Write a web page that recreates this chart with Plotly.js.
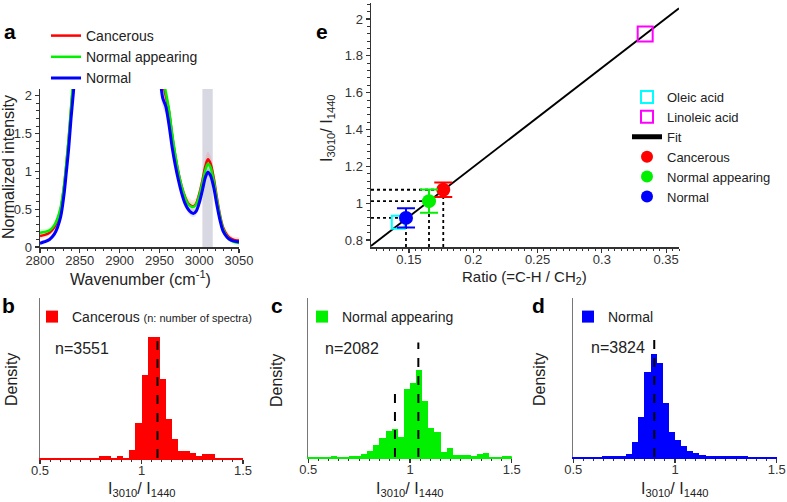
<!DOCTYPE html>
<html>
<head>
<meta charset="utf-8">
<script src="https://cdn.plot.ly/plotly-3.0.1.min.js"></script>
<style>body{margin:0;background:#fff}</style>
</head>
<body>
<div id="chart" style="width:787px;height:502px"></div>
<script>
// panel a: mean normalized spectra, 2800-3050 cm-1 (the CH2 peaks run off the top)
const wavenumber = [2800, 2806, 2812, 2818, 2822, 2826, 2830, 2833, 2836, 2839, 2842, 2846, 2860, 2900, 2940,
  2950, 2954, 2958, 2962, 2966, 2970, 2974, 2978, 2982, 2986, 2990, 2993, 2996, 3000, 3004,
  3008, 3011, 3014, 3018, 3022, 3026, 3030, 3035, 3040, 3045, 3050];
const specCancer = [0.145, 0.16, 0.19, 0.26, 0.35, 0.50, 0.78, 1.08, 1.42, 1.82, 2.2, 2.7, 4, 4, 4,
  2.6, 2.2, 2.0, 1.8, 1.48, 1.2, 0.98, 0.8, 0.67, 0.58, 0.545, 0.54, 0.57, 0.70, 0.88,
  1.08, 1.16, 1.11, 0.93, 0.67, 0.43, 0.26, 0.16, 0.11, 0.09, 0.085];
const specAppear = [0.19, 0.20, 0.22, 0.29, 0.38, 0.53, 0.80, 1.10, 1.44, 1.85, 2.25, 2.7, 4, 4, 4,
  2.6, 2.25, 2.05, 1.82, 1.5, 1.22, 0.98, 0.8, 0.66, 0.57, 0.535, 0.53, 0.56, 0.68, 0.85,
  1.03, 1.10, 1.06, 0.89, 0.64, 0.41, 0.24, 0.14, 0.09, 0.065, 0.055];
const specNormal = [0.05, 0.07, 0.10, 0.17, 0.26, 0.40, 0.68, 0.98, 1.30, 1.70, 2.05, 2.6, 4, 4, 4,
  2.4, 1.98, 1.86, 1.62, 1.32, 1.08, 0.88, 0.71, 0.58, 0.50, 0.455, 0.445, 0.47, 0.58, 0.75,
  0.93, 0.99, 0.95, 0.80, 0.57, 0.36, 0.21, 0.13, 0.09, 0.075, 0.065];
const sdCancer = [0.04, 0.04, 0.04, 0.05, 0.06, 0.07, 0.09, 0.11, 0.13, 0.15, 0.17, 0.2, 0.2, 0.2, 0.2,
  0.2, 0.17, 0.15, 0.13, 0.11, 0.1, 0.09, 0.08, 0.08, 0.08, 0.08, 0.08, 0.08, 0.08, 0.09,
  0.1, 0.1, 0.1, 0.09, 0.08, 0.07, 0.06, 0.05, 0.04, 0.04, 0.04];
const sdAppear = [0.04, 0.04, 0.04, 0.04, 0.05, 0.06, 0.08, 0.09, 0.11, 0.13, 0.15, 0.18, 0.18, 0.18, 0.18,
  0.18, 0.15, 0.13, 0.11, 0.1, 0.09, 0.08, 0.07, 0.06, 0.06, 0.06, 0.06, 0.06, 0.06, 0.07,
  0.08, 0.08, 0.08, 0.07, 0.06, 0.06, 0.05, 0.04, 0.04, 0.04, 0.04];
const sdNormal = [0.03, 0.03, 0.03, 0.04, 0.05, 0.06, 0.07, 0.08, 0.1, 0.12, 0.14, 0.15, 0.15, 0.15, 0.15,
  0.15, 0.13, 0.11, 0.1, 0.09, 0.08, 0.07, 0.06, 0.05, 0.05, 0.05, 0.05, 0.05, 0.05, 0.05,
  0.05, 0.05, 0.05, 0.05, 0.05, 0.04, 0.04, 0.03, 0.03, 0.03, 0.03];
const bandWn = [3004, 3017];

// panel e: I3010/I1440 vs C-H/CH2 ratio
const acidNames = ['Oleic acid', 'Linoleic acid'];
const acidRatio = [0.1417, 0.3337];
const acidI = [0.8965, 1.918];
const groupNames = ['Cancerous', 'Normal appearing', 'Normal'];
const groupRatio = [0.1767, 0.1656, 0.1477];
const groupI = [1.073, 1.011, 0.920];
const groupErr = [0.039, 0.063, 0.052];
const fitSlope = 5.39;
const fitIntercept = 0.118;
const eXRange = [0.1205, 0.36];
const eYRange = [0.762, 2.087];

// panels b-d: histograms of I3010/I1440 (bin width 0.03)
const binsB = [0.805, 0.835, 0.895, 0.955, 0.985, 1.015, 1.045, 1.075, 1.105, 1.135, 1.165, 1.195, 1.225, 1.255, 1.285, 1.315, 1.345];
const densB = [0.1, 0.1, 0.1, 0.52, 2.19, 5.17, 7.52, 7.52, 4.9, 2.4, 1.21, 0.42, 0.42, 0.31, 0.1, 0.23, 0.23];
const binsC = [0.625, 0.715, 0.745, 0.775, 0.805, 0.835, 0.865, 0.895, 0.925, 0.955, 0.985, 1.015, 1.045, 1.075, 1.105, 1.135,
  1.165, 1.195, 1.225, 1.255, 1.285, 1.315, 1.345, 1.375, 1.465, 1.495];
const densC = [0.07, 0.05, 0.09, 0.18, 0.44, 0.83, 1.29, 1.8, 1.91, 1.41, 4.68, 5.14, 6.01, 3.87, 2.03, 1.71,
  0.37, 0.6, 0.12, 0.12, 0.12, 0.07, 0.18, 0.25, 0.09, 0.09];
const binsD = [0.655, 0.685, 0.715, 0.745, 0.775, 0.805, 0.835, 0.865, 0.895, 0.925, 0.955, 0.985, 1.015, 1.045, 1.075, 1.105,
  1.135, 1.165, 1.195, 1.225, 1.255, 1.285, 1.315, 1.345];
const densD = [0.07, 0.07, 0.07, 0.07, 0.24, 1.04, 2.8, 5.98, 7.29, 6.64, 3.81, 1.74, 1.18, 0.75, 0.4, 0.28,
  0.16, 0.09, 0.09, 0.09, 0.09, 0.09, 0.09, 0.09];
const meanB = [1.079], meanBTop = 7.8;
const meansC = [0.926, 1.041], meansCTop = [4.63, 7.9];
const meanD = [0.898], meanDTop = 8.87;
const countB = 3551, countC = 2082, countD = 3824;

const RED = '#ff0000', GREEN = '#00f000', BLUE = '#0000ff';
const FONT = 'Liberation Sans, Arial, sans-serif';
const W = 787, H = 502;
const fx = px => px / W;
const fy = py => 1 - py / H;

function band (mean, sd, fill) {
  const up = mean.map((v, i) => v + sd[i]);
  const lo = mean.map((v, i) => v - sd[i]).reverse();
  return {
    type: 'scatter', x: wavenumber.concat(wavenumber.slice().reverse()), y: up.concat(lo),
    fill: 'toself', fillcolor: fill, line: { width: 0, shape: 'spline' }, mode: 'lines',
    hoverinfo: 'skip', showlegend: false, xaxis: 'x', yaxis: 'y'
  };
}

function spec (y, name, color, width) {
  return {
    type: 'scatter', mode: 'lines', x: wavenumber, y, name,
    line: { color, width, shape: 'spline' }, xaxis: 'x', yaxis: 'y', legend: 'legend'
  };
}

function dashed (xs, tops, xa, ya) {
  return xs.map((m, i) => ({
    type: 'scatter', mode: 'lines', x: [m, m], y: [0, tops[i]], xaxis: xa, yaxis: ya,
    line: { color: '#000', width: 2, dash: 'dash' }, showlegend: false, hoverinfo: 'skip'
  }));
}

function hist (bins, dens, name, color, xa, ya, leg) {
  return {
    type: 'bar', x: bins, y: dens, width: 0.03, name, marker: { color, line: { width: 0 } },
    xaxis: xa, yaxis: ya, legend: leg
  };
}

const traces = [
  band(specCancer, sdCancer, 'rgba(255,0,0,0.10)'),
  band(specAppear, sdAppear, 'rgba(0,240,0,0.12)'),
  band(specNormal, sdNormal, 'rgba(0,0,255,0.10)'),
  spec(specCancer, 'Cancerous', RED, 2.5),
  spec(specAppear, 'Normal appearing', GREEN, 2.5),
  spec(specNormal, 'Normal', BLUE, 3)
];

// dotted guides in panel e
const groupColors = [RED, GREEN, BLUE];
groupRatio.forEach((r, i) => {
  traces.push({
    type: 'scatter', mode: 'lines', x: [eXRange[0], r], y: [groupI[i], groupI[i]], xaxis: 'x2', yaxis: 'y2',
    line: { color: '#000', width: 1.8, dash: 'dot' }, showlegend: false, hoverinfo: 'skip'
  });
  traces.push({
    type: 'scatter', mode: 'lines', x: [r, r], y: [eYRange[0], groupI[i]], xaxis: 'x2', yaxis: 'y2',
    line: { color: '#000', width: 1.8, dash: 'dot' }, showlegend: false, hoverinfo: 'skip'
  });
});

traces.push({
  type: 'scatter', mode: 'lines', name: 'Fit', x: eXRange, y: eXRange.map(v => fitIntercept + fitSlope * v),
  line: { color: '#000', width: 1.8 }, xaxis: 'x2', yaxis: 'y2', legend: 'legend2', legendrank: 3
});
const acidColors = ['#00ffff', '#ff00ff'];
const acidSizes = [13, 15];
acidNames.forEach((n, i) => {
  traces.push({
    type: 'scatter', mode: 'markers', name: n, x: [acidRatio[i]], y: [acidI[i]],
    marker: { symbol: 'square-open', size: acidSizes[i], color: acidColors[i], line: { width: 2, color: acidColors[i] } },
    xaxis: 'x2', yaxis: 'y2', legend: 'legend2', legendrank: i + 1
  });
});
groupNames.forEach((n, i) => {
  traces.push({
    type: 'scatter', mode: 'markers', name: n, x: [groupRatio[i]], y: [groupI[i]],
    marker: { size: 14, color: groupColors[i] },
    error_y: { type: 'data', array: [groupErr[i]], color: groupColors[i], thickness: 2, width: 9 },
    xaxis: 'x2', yaxis: 'y2', legend: 'legend2', legendrank: 4 + i
  });
});

traces.push(hist(binsB, densB, 'Cancerous <span style="font-size:11px">(n: number of spectra)</span>', RED, 'x3', 'y3', 'legend3'));
traces.push(...dashed(meanB, [meanBTop], 'x3', 'y3'));
traces.push(hist(binsC, densC, 'Normal appearing', GREEN, 'x4', 'y4', 'legend4'));
traces.push(...dashed(meansC, meansCTop, 'x4', 'y4'));
traces.push(hist(binsD, densD, 'Normal', BLUE, 'x5', 'y5', 'legend5'));
traces.push(...dashed(meanD, [meanDTop], 'x5', 'y5'));

const axisBase = {
  showgrid: false, zeroline: false, showline: true, linecolor: '#333', linewidth: 1.5,
  ticks: 'outside', ticklen: 4, tickwidth: 1.2, tickcolor: '#333',
  tickfont: { size: 13, color: '#333', family: FONT }
};
const xTight = { ticklabelstandoff: -4 };
function minor (dtick) {
  return { dtick, ticks: 'outside', ticklen: 2.5, tickwidth: 1, tickcolor: '#333' };
}
function histX (domain, color, anchor) {
  return Object.assign({}, axisBase, xTight, {
    domain, anchor, range: [0.5, 1.5], dtick: 0.5, tick0: 0, linecolor: color, minor: minor(0.05)
  });
}
function histY (domain, top, anchor) {
  return {
    domain, anchor, range: [0, top], showgrid: false, zeroline: false, showline: true,
    linecolor: '#777', linewidth: 1.5, ticks: '', showticklabels: false
  };
}

const histDomY = [fy(457), fy(298)];
const sub = 'I<sub>3010</sub>/ I<sub>1440</sub>';
const ann = (x, y, text, size, extra) => Object.assign({
  xref: 'paper', yref: 'paper', x: fx(x), y: fy(y), text, showarrow: false,
  xanchor: 'center', yanchor: 'middle',
  font: { size, color: '#222', family: FONT }
}, extra || {});
const bold = { font: { size: 21, color: '#000', family: FONT, weight: 'bold' } };

const legendBase = {
  xanchor: 'left', yanchor: 'top', bgcolor: 'rgba(0,0,0,0)', borderwidth: 0,
  tracegroupgap: 0, font: { size: 14, color: '#222', family: FONT }
};

const layout = {
  width: W, height: H, margin: { l: 0, r: 0, t: 0, b: 0 },
  paper_bgcolor: '#fff', plot_bgcolor: 'rgba(0,0,0,0)',
  font: { family: FONT, color: '#222' },
  barmode: 'overlay', bargap: 0,
  xaxis: Object.assign({}, axisBase, { ticklabelstandoff: -3, domain: [fx(40), fx(239)], anchor: 'y', range: [2800, 3050], dtick: 50, minor: minor(10) }),
  yaxis: Object.assign({}, axisBase, { domain: [fy(247), fy(89)], anchor: 'x', range: [0, 2.09], dtick: 0.5, minor: minor(0.1) }),
  xaxis2: Object.assign({}, axisBase, xTight, { domain: [fx(371), fx(679)], anchor: 'y2', range: eXRange, dtick: 0.05, tick0: 0, minor: minor(0.005) }),
  yaxis2: Object.assign({}, axisBase, { domain: [fy(247), fy(3)], anchor: 'x2', range: eYRange, dtick: 0.2, tick0: 0, minor: minor(0.04) }),
  xaxis3: histX([fx(40), fx(243)], RED, 'y3'),
  yaxis3: histY([fy(458), fy(298)], 9.94, 'x3'),
  xaxis4: histX([fx(308.3), fx(511.7)], GREEN, 'y4'),
  yaxis4: histY(histDomY, 10.98, 'x4'),
  xaxis5: histX([fx(573.3), fx(776.7)], BLUE, 'y5'),
  yaxis5: histY(histDomY, 11.25, 'x5'),
  legend: Object.assign({}, legendBase, { x: fx(46), y: fy(20) }),
  legend2: Object.assign({}, legendBase, { x: fx(627), y: fy(82), itemsizing: 'constant', font: { size: 13, color: '#222', family: FONT } }),
  legend3: Object.assign({}, legendBase, { x: fx(32), y: fy(301) }),
  legend4: Object.assign({}, legendBase, { x: fx(302), y: fy(301) }),
  legend5: Object.assign({}, legendBase, { x: fx(568), y: fy(301) }),
  shapes: [{
    type: 'rect', xref: 'x', yref: 'y domain', x0: bandWn[0], x1: bandWn[1], y0: 0, y1: 1,
    fillcolor: 'rgb(216,216,226)', line: { width: 0 }, layer: 'below'
  }],
  annotations: [
    ann(10, 32, 'a', 21, bold),
    ann(322, 32, 'e', 21, bold),
    ann(8, 305, 'b', 21, bold),
    ann(277, 305, 'c', 21, bold),
    ann(538, 305, 'd', 21, bold),
    ann(9, 167, 'Normalized intensity', 16, { textangle: -90 }),
    ann(140, 278, 'Wavenumber (cm<sup>-1</sup>)', 16),
    ann(327, 128, sub, 16, { textangle: -90 }),
    ann(524, 277, 'Ratio (=C-H / CH<sub>2</sub>)', 15),
    ann(11, 380, 'Density', 16, { textangle: -90 }),
    ann(276, 381, 'Density', 16, { textangle: -90 }),
    ann(539, 380, 'Density', 16, { textangle: -90 }),
    ann(141.5, 489, sub, 16),
    ann(410, 489, sub, 16),
    ann(675, 489, sub, 16),
    ann(53, 348, 'n=' + countB, 16, { xanchor: 'left' }),
    ann(323, 348, 'n=' + countC, 16, { xanchor: 'left' }),
    ann(589, 347, 'n=' + countD, 16, { xanchor: 'left' })
  ]
};

Plotly.newPlot('chart', traces, layout, { displayModeBar: false, staticPlot: true });
</script>
</body>
</html>
